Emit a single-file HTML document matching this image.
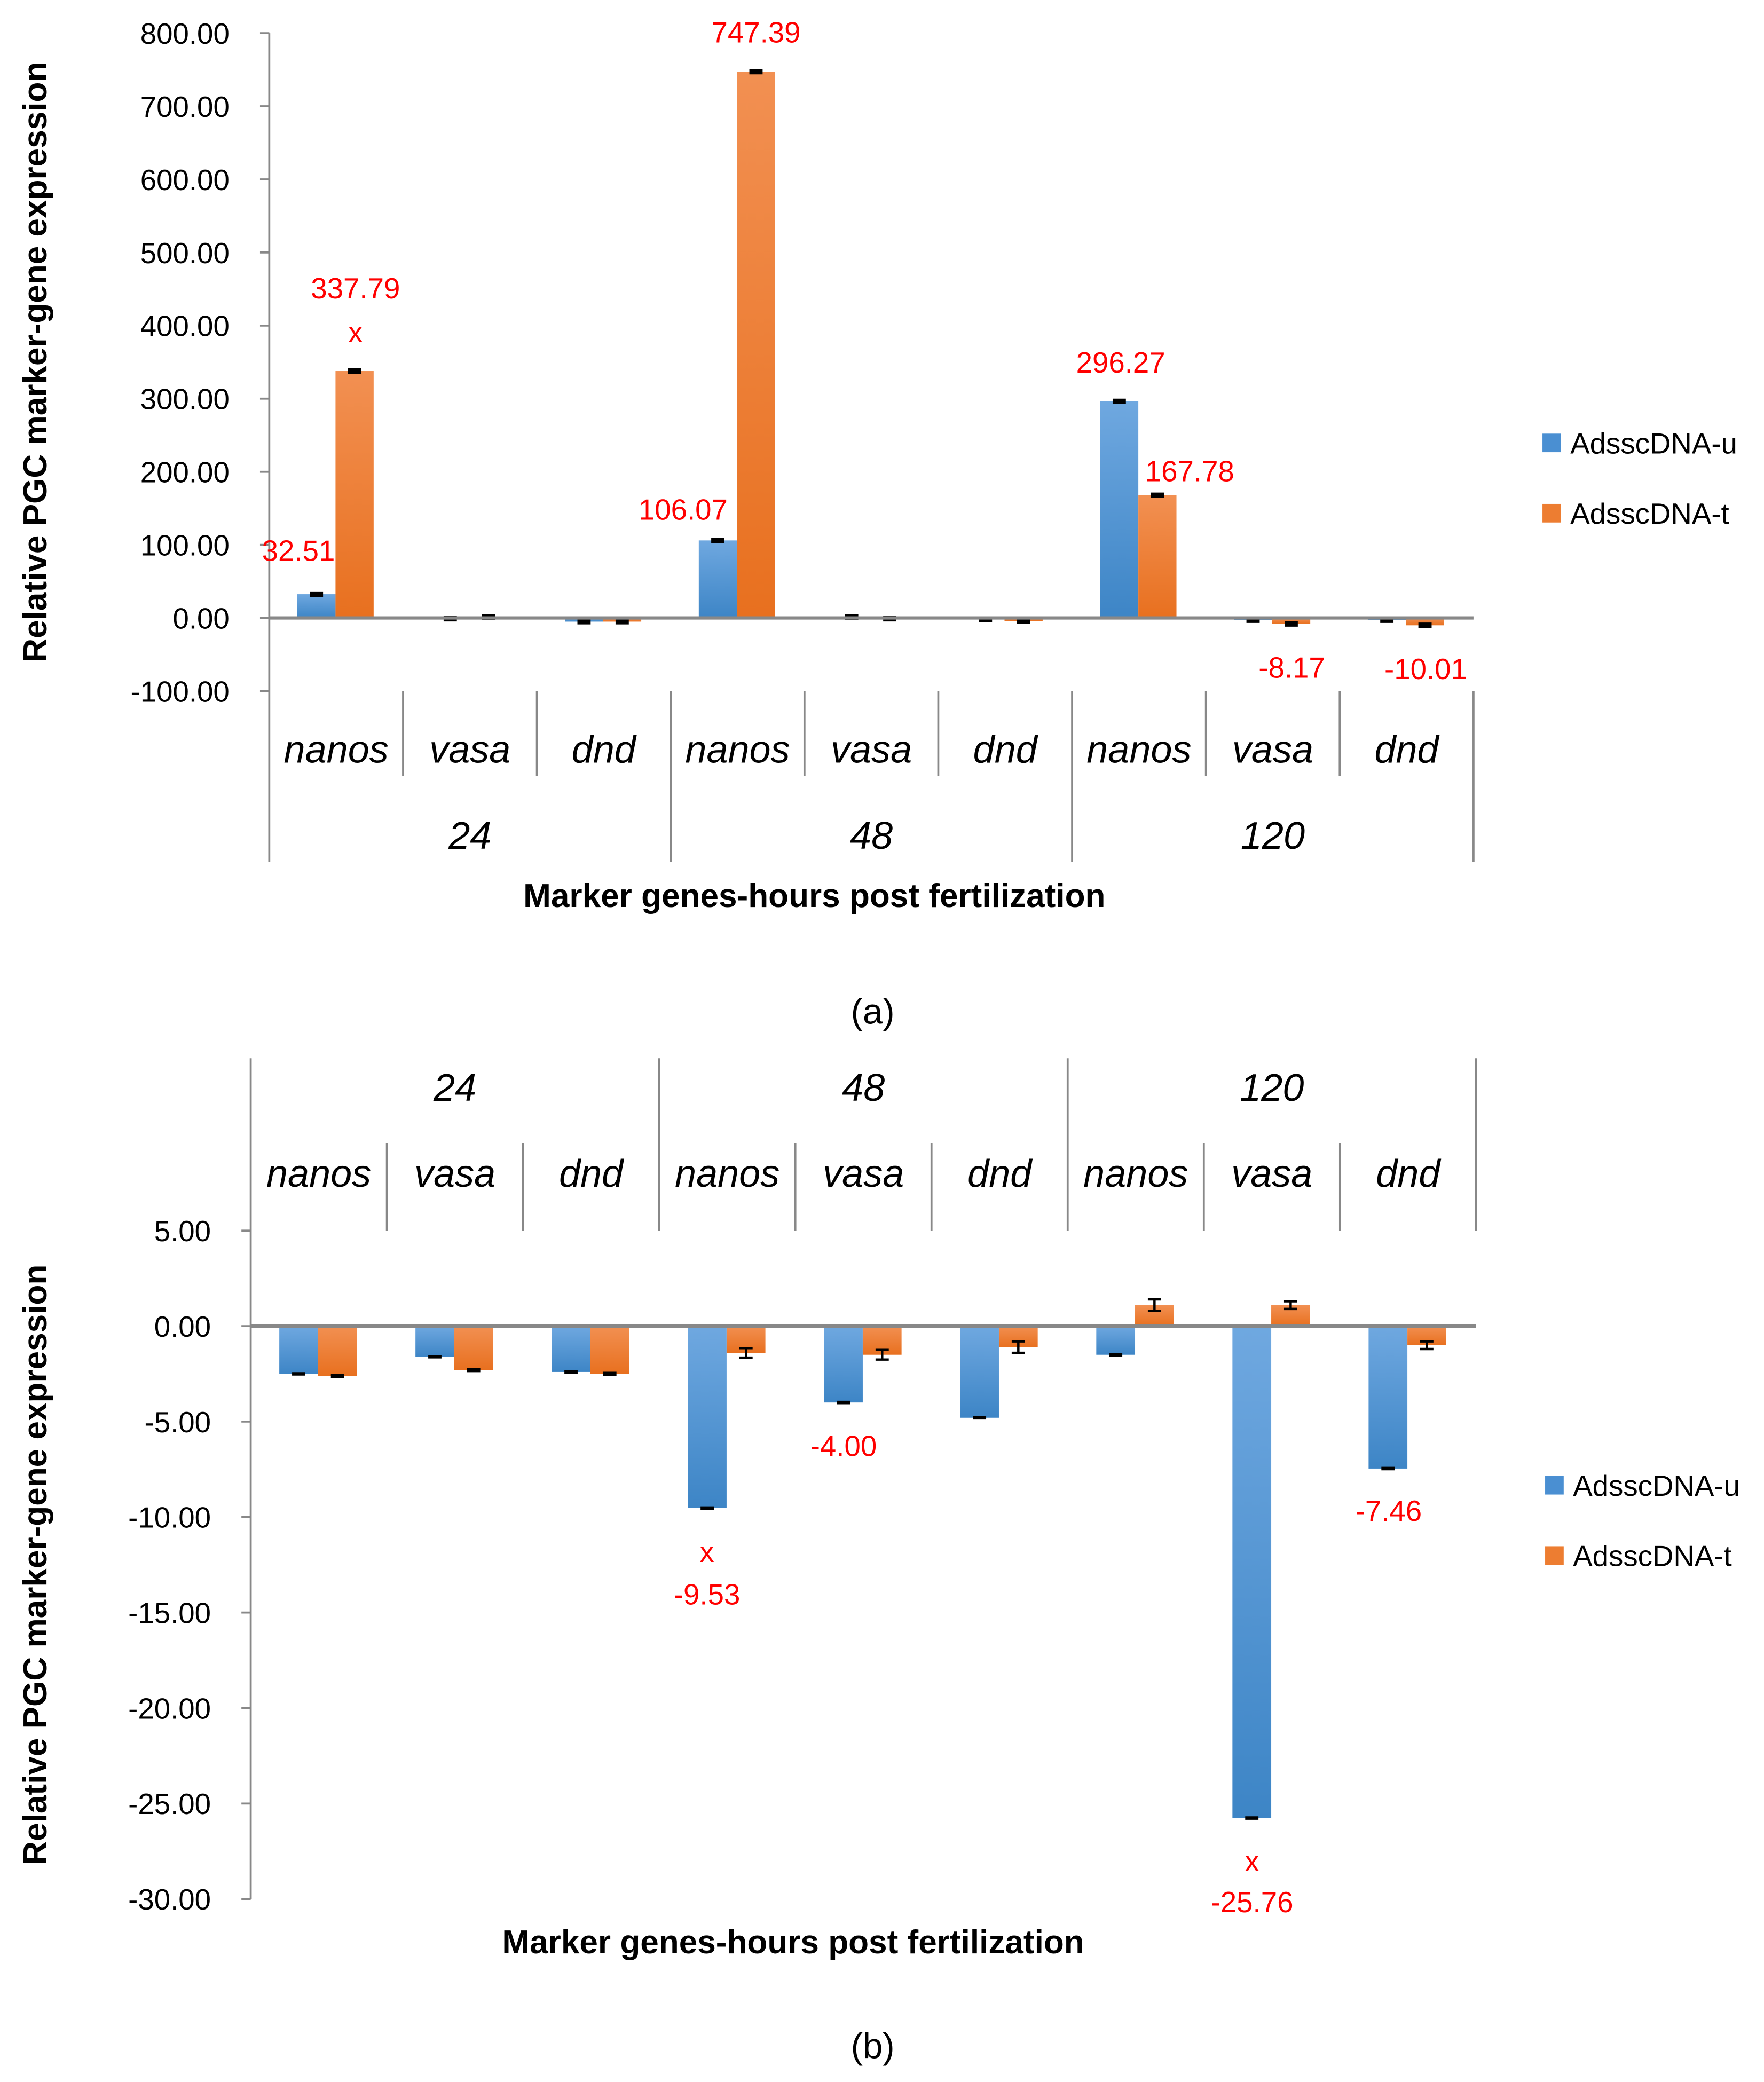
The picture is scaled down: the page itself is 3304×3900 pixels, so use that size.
<!DOCTYPE html>
<html><head><meta charset="utf-8"><style>
html,body{margin:0;padding:0;background:#fff}
svg{display:block}
text{font-family:"Liberation Sans","DejaVu Sans",sans-serif}
</style></head><body>
<svg id="fig" width="3304" height="3900" viewBox="0 0 1330 1570" xmlns="http://www.w3.org/2000/svg">
<defs>
<linearGradient id="gb" x1="0" y1="0" x2="0" y2="1"><stop offset="0" stop-color="#6fa8e0"/><stop offset="1" stop-color="#3d85c6"/></linearGradient>
<linearGradient id="go" x1="0" y1="0" x2="0" y2="1"><stop offset="0" stop-color="#f29052"/><stop offset="1" stop-color="#e8701f"/></linearGradient>
</defs>
<g id="ca"></g>
<g id="cb"></g>
</svg>
<script>
const genes=["nanos","vasa","dnd","nanos","vasa","dnd","nanos","vasa","dnd"];
const groups=["24","48","120"];
const aU=[32.51,-1,-5,106.07,1,-2,296.27,-3,-3];
const aT=[337.79,1,-5,747.39,-1,-4,167.78,-8.17,-10.01];
const aTicks=[800,700,600,500,400,300,200,100,0,-100];
const bU=[-2.5,-1.6,-2.4,-9.53,-4.0,-4.8,-1.5,-25.76,-7.46];
const bT=[-2.6,-2.3,-2.5,-1.4,-1.5,-1.1,1.1,1.1,-1.0];
const bErrT=[0.05,0.05,0.05,0.25,0.25,0.3,0.3,0.2,0.2];
const bTicks=[5,0,-5,-10,-15,-20,-25,-30];
const NS="http://www.w3.org/2000/svg";
function mk(p,t,a,txt){const e=document.createElementNS(NS,t);for(const k in a)e.setAttribute(k,a[k]);if(txt!==undefined)e.textContent=txt;p.appendChild(e);return e;}
function chart(g,o){
  const y=v=>o.y0+(v-o.v0)*(o.y1-o.y0)/(o.v1-o.v0);
  const cw=(o.x1-o.x0)/9;
  o.ticks.forEach(t=>{const l=mk(g,"text",{x:o.x0-30,y:y(t)+8,"text-anchor":"end","font-size":22},t.toFixed(2));
    
    
    mk(g,"line",{x1:o.x0-7,x2:o.x0,y1:y(t),y2:y(t),stroke:"#888","stroke-width":1.5});});
  mk(g,"line",{x1:o.x0,x2:o.x0,y1:y(o.ticks[0]),y2:y(o.ticks[o.ticks.length-1]),stroke:"#888","stroke-width":1.5});
  for(let i=0;i<9;i++){
    const cx=o.x0+i*cw, bx=cx+cw*0.21, bw=cw*0.285;
    [[o.U[i],"url(#gb)",bx,0.03],[o.T[i],"url(#go)",bx+bw,o.E?o.E[i]:0.03]].forEach(([v,f,x,e],k)=>{
      const r=mk(g,"rect",{x:x,y:Math.min(y(v),y(0)),width:bw,height:Math.max(0.8,Math.abs(y(v)-y(0))),fill:f});
      
      
      const ee=o.a?Math.max(e*2,1.5):e; const yt=y(v+ee),yb=y(v-ee),m=x+bw/2;
      mk(g,"path",{d:`M${m-5} ${yt}H${m+5}M${m} ${yt}V${yb}M${m-5} ${yb}H${m+5}`,stroke:"#000","stroke-width":o.a?2.5:1.8,fill:"none"});
    });
  }
  mk(g,"line",{x1:o.x0,x2:o.x1,y1:y(0),y2:y(0),stroke:"#888","stroke-width":2.5});
  for(let i=0;i<=9;i++){const x=o.x0+i*cw,G=i%3==0;mk(g,"line",{x1:x,x2:x,y1:G?o.gTop:o.cTop,y2:G?o.gBot:o.cBot,stroke:"#888","stroke-width":1.5});}
  genes.forEach((s,i)=>{const t=mk(g,"text",{x:o.x0+(i+0.5)*cw,y:o.gy,"text-anchor":"middle","font-size":29,"font-style":"italic"},s);
    
    });
  groups.forEach((s,i)=>{const t=mk(g,"text",{x:o.x0+(i*3+1.5)*cw,y:o.hy,"text-anchor":"middle","font-size":29,"font-style":"italic"},s);
    
    });
}
const ga=document.getElementById("ca"), gbb=document.getElementById("cb");
chart(ga,{x0:203,x1:1111,y0:466,v0:0,y1:25,v1:800,ticks:aTicks,U:aU,T:aT,a:true,cTop:521,cBot:585,gTop:521,gBot:650,gy:575,hy:640});
chart(gbb,{x0:189,x1:1113,y0:1000,v0:0,y1:928,v1:5,ticks:bTicks,U:bU,T:bT,E:bErrT,cTop:862,cBot:928,gTop:798,gBot:928,gy:895,hy:830});
function txt(g,x,y,s,o){const t=mk(g,"text",Object.assign({x:x,y:y,"text-anchor":"middle","font-size":22},o||{}),s);return t;}
[[225,423,"32.51"],[268,225,"337.79"],[268,258,"x"],[570,32,"747.39"],[515,392,"106.07"],[845,281,"296.27"],[897,363,"167.78"],[974,511,"-8.17"],[1075,512,"-10.01"]].forEach(a=>{const t=txt(ga,a[0],a[1],a[2],{fill:"#f00"});
  
  });
[[533,1178,"x"],[533,1210,"-9.53"],[636,1098,"-4.00"],[944,1411,"x"],[944,1442,"-25.76"],[1047,1147,"-7.46"]].forEach(a=>{const t=txt(gbb,a[0],a[1],a[2],{fill:"#f00"});
  
  });
let t;
t=txt(ga,614,684,"Marker genes-hours post fertilization",{"font-size":25,"font-weight":"bold"});

t=txt(gbb,598,1473,"Marker genes-hours post fertilization",{"font-size":25,"font-weight":"bold"});

t=txt(ga,0,0,"Relative PGC marker-gene expression",{"font-size":25,"font-weight":"bold",transform:"translate(35,273) rotate(-90)"});

t=txt(gbb,0,0,"Relative PGC marker-gene expression",{"font-size":25,"font-weight":"bold",transform:"translate(35,1180) rotate(-90)"});

t=txt(ga,658,772,"(a)",{"font-size":27,"font-family":"Liberation Serif, serif"});
t=txt(gbb,658,1552,"(b)",{"font-size":27,"font-family":"Liberation Serif, serif"});
function legend(g,x,y1,y2){
  mk(g,"rect",{x:x,y:y1,width:14,height:14,fill:"#4a8fd2"});
  let l=mk(g,"text",{x:x+21,y:y1+15,"font-size":22},"AdsscDNA-u");
  
  mk(g,"rect",{x:x,y:y2,width:14,height:14,fill:"#ed7d31"});
  l=mk(g,"text",{x:x+21,y:y2+15,"font-size":22},"AdsscDNA-t");
  
}
legend(ga,1163,327,380);
legend(gbb,1165,1113,1166);
</script>
</body></html>
